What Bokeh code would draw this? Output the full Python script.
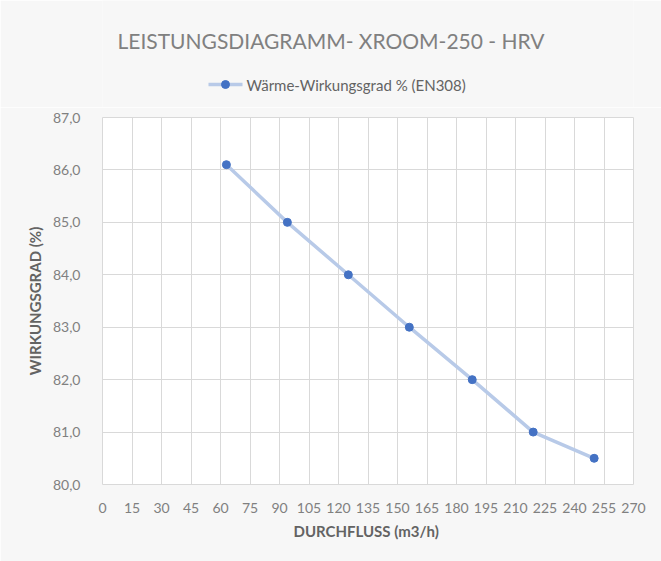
from bokeh.plotting import figure
from bokeh.layouts import column
from bokeh.models import (Range1d, FixedTicker, CustomJSTickFormatter, Label)
from bokeh.embed import file_html
from bokeh.resources import INLINE

# ---- data ----
flow = [63, 94, 125, 156, 188, 219, 250]
efficiency = [86.1, 85.0, 84.0, 83.0, 82.0, 81.0, 80.5]
x_ticks = list(range(0, 271, 15))
y_ticks = [80, 81, 82, 83, 84, 85, 86, 87]
title_text = "LEISTUNGSDIAGRAMM- XROOM-250 - HRV"
series_name = "Wärme-Wirkungsgrad % (EN308)"
x_label = "DURCHFLUSS  (m3/h)"
y_label = "WIRKUNGSGRAD (%)"

FONT = "Lato"
TXT = "#636363"
TICK = "#808080"
GRID = "#D9D9D9"
BG = "#F7F7F7"
LINE_C = "#B8CAE8"
DOT_C = "#4472C4"

W, H, TOP_H = 661, 561, 107
FRAME_L, FRAME_R = 102, 633

# ---- header: title + legend key (header frame is aligned with the main frame,
# so its x range is expressed in page pixels) ----
top = figure(width=W, height=TOP_H, output_backend="svg", toolbar_location=None,
             x_range=Range1d(FRAME_L, FRAME_R), y_range=Range1d(TOP_H, 0),
             min_border=0)
top.axis.visible = False
top.grid.visible = False
top.outline_line_color = None
top.background_fill_color = BG
top.border_fill_color = BG
top.add_layout(Label(x=W / 2, y=40, text=title_text, text_align="center",
                     text_baseline="middle", text_font=FONT, text_font_size="21px",
                     text_color="#808080"))
# legend key
top.line(x=[208, 242], y=[84, 84], line_color=LINE_C, line_width=3.5)
top.scatter(x=[225], y=[84], size=8, fill_color=DOT_C, line_color=DOT_C)
top.add_layout(Label(x=246, y=84, text=series_name, text_align="left",
                     text_baseline="middle", text_font=FONT, text_font_size="15px",
                     text_color=TXT))

# ---- main chart ----
p = figure(width=W, height=H - TOP_H, output_backend="svg", toolbar_location=None,
           x_range=Range1d(0, 270), y_range=Range1d(80, 87),
           min_border_left=FRAME_L, min_border_right=W - FRAME_R, min_border_bottom=77,
           min_border_top=117 - TOP_H)
p.background_fill_color = "white"
p.border_fill_color = BG
p.outline_line_color = GRID

p.line(flow, efficiency, line_color=LINE_C, line_width=3.5)
p.scatter(flow, efficiency, size=8, fill_color=DOT_C, line_color=DOT_C)

for ax in (p.xaxis[0], p.yaxis[0]):
    ax.axis_line_color = None
    ax.major_tick_line_color = None
    ax.minor_tick_line_color = None
    ax.major_label_text_font = FONT
    ax.major_label_text_font_size = "14px"
    ax.major_label_text_color = TICK
    ax.axis_label_text_font = FONT
    ax.axis_label_text_font_size = "15px"
    ax.axis_label_text_font_style = "bold"
    ax.axis_label_text_color = TXT

p.xaxis.ticker = FixedTicker(ticks=x_ticks)
p.yaxis.ticker = FixedTicker(ticks=y_ticks)
p.yaxis.formatter = CustomJSTickFormatter(code="return tick.toFixed(1).replace('.', ',');")
p.xaxis.axis_label = x_label
p.yaxis.axis_label = y_label
p.xaxis.major_label_standoff = 12
p.xaxis.axis_label_standoff = 6
p.yaxis.major_label_standoff = 16
p.yaxis.axis_label_standoff = 6

p.xgrid.grid_line_color = GRID
p.ygrid.grid_line_color = GRID
p.xgrid.ticker = FixedTicker(ticks=x_ticks)
p.ygrid.ticker = FixedTicker(ticks=y_ticks)

layout = column(top, p, spacing=0)
html = file_html(layout, INLINE)
open("out.html", "w").write(html)
